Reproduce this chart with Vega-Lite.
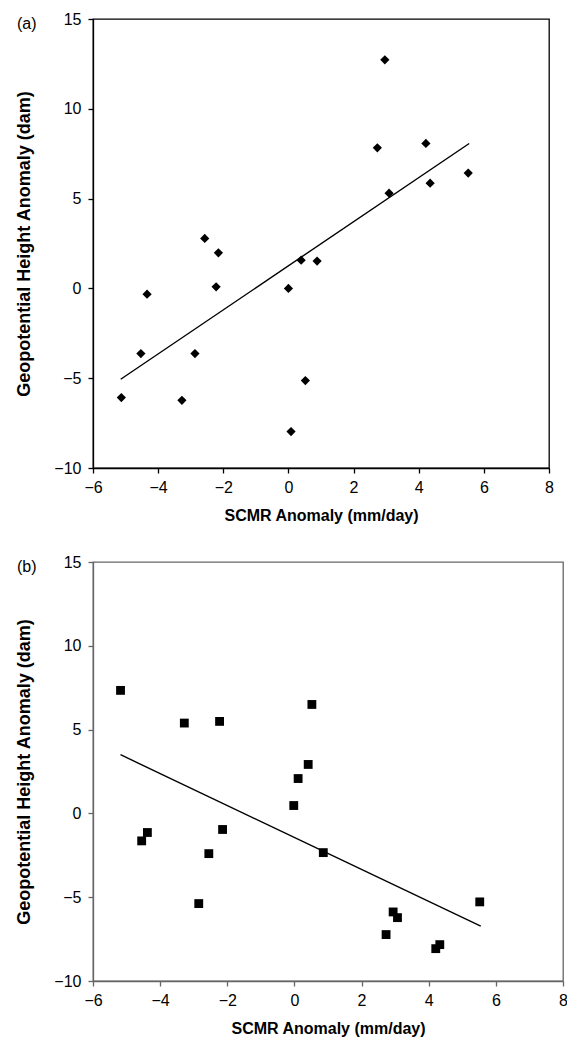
{
  "$schema": "https://vega.github.io/schema/vega-lite/v6.json",
  "padding": {"left": 15, "top": 10, "right": 0, "bottom": 0},
  "spacing": 29,
  "background": "white",
  "config": {
    "font": "Liberation Sans",
    "axis": {
      "grid": false,
      "labelFont": "Liberation Sans",
      "labelFontSize": 16,
      "labelColor": "#000",
      "titleFont": "Liberation Sans",
      "titleFontSize": 16,
      "titleFontWeight": "bold",
      "titleColor": "#000",
      "tickSize": 5,
      "domainWidth": 1.3,
      "tickWidth": 1.3,
      "labelFlush": false
    },
    "axisX": {"titlePadding": 12, "labelPadding": 6},
    "axisY": {"titlePadding": 20, "labelPadding": 7, "titleFontSize": 18},
    "title": {"font": "Liberation Sans", "fontSize": 16, "fontWeight": "normal", "color": "#000"}
  },
  "datasets": {
    "a": [
      {"x": -5.13, "y": -6.08}, {"x": -4.53, "y": -3.63}, {"x": -4.34, "y": -0.32},
      {"x": -3.27, "y": -6.23}, {"x": -2.87, "y": -3.63}, {"x": -2.57, "y": 2.78},
      {"x": -2.22, "y": 0.09}, {"x": -2.15, "y": 1.98}, {"x": 0.0, "y": 0.0},
      {"x": 0.08, "y": -7.97}, {"x": 0.39, "y": 1.57}, {"x": 0.52, "y": -5.13},
      {"x": 0.88, "y": 1.52}, {"x": 2.73, "y": 7.83}, {"x": 2.96, "y": 12.73},
      {"x": 3.09, "y": 5.3}, {"x": 4.22, "y": 8.07}, {"x": 4.35, "y": 5.86},
      {"x": 5.52, "y": 6.42}
    ],
    "fitA": [{"x": -5.15, "y": -5.06}, {"x": 5.55, "y": 8.07}],
    "b": [
      {"x": -5.18, "y": 7.34}, {"x": -4.55, "y": -1.64}, {"x": -4.38, "y": -1.14},
      {"x": -3.28, "y": 5.39}, {"x": -2.85, "y": -5.38}, {"x": -2.55, "y": -2.4},
      {"x": -2.23, "y": 5.49}, {"x": -2.14, "y": -0.96}, {"x": -0.02, "y": 0.47},
      {"x": 0.11, "y": 2.08}, {"x": 0.41, "y": 2.92}, {"x": 0.52, "y": 6.5},
      {"x": 0.86, "y": -2.34}, {"x": 2.73, "y": -7.23}, {"x": 2.94, "y": -5.88},
      {"x": 3.07, "y": -6.22}, {"x": 4.21, "y": -8.07}, {"x": 4.33, "y": -7.83},
      {"x": 5.52, "y": -5.28}
    ],
    "fitB": [{"x": -5.18, "y": 3.5}, {"x": 5.55, "y": -6.72}]
  },
  "vconcat": [
    {
      "width": 456,
      "height": 449,
      "title": {"text": "(a)", "anchor": "start", "frame": "group", "dx": -76, "dy": 21, "offset": 0},
      "view": {"stroke": "#000", "strokeWidth": 1.3},
      "layer": [
        {
          "data": {"name": "fitA"},
          "mark": {"type": "line", "color": "#000", "strokeWidth": 1.4},
          "encoding": {
            "x": {"field": "x", "type": "quantitative", "scale": {"domain": [-6, 8], "nice": false}, "axis": {"values": [-6, -4, -2, 0, 2, 4, 6, 8], "title": "SCMR Anomaly (mm/day)", "domainColor": "#000", "tickColor": "#000"}},
            "y": {"field": "y", "type": "quantitative", "scale": {"domain": [-10, 15], "nice": false}, "axis": {"values": [-10, -5, 0, 5, 10, 15], "title": "Geopotential Height Anomaly (dam)", "domainColor": "#000", "tickColor": "#000"}}
          }
        },
        {
          "data": {"name": "a"},
          "mark": {"type": "point", "shape": "diamond", "filled": true, "color": "#000", "opacity": 1, "size": 85, "strokeWidth": 0},
          "encoding": {
            "x": {"field": "x", "type": "quantitative"},
            "y": {"field": "y", "type": "quantitative"}
          }
        }
      ]
    },
    {
      "width": 470,
      "height": 419,
      "title": {"text": "(b)", "anchor": "start", "frame": "group", "dx": -76, "dy": 21, "offset": 0},
      "view": {"stroke": "#666", "strokeWidth": 1.3},
      "layer": [
        {
          "data": {"name": "fitB"},
          "mark": {"type": "line", "color": "#000", "strokeWidth": 1.4},
          "encoding": {
            "x": {"field": "x", "type": "quantitative", "scale": {"domain": [-6, 8], "nice": false}, "axis": {"values": [-6, -4, -2, 0, 2, 4, 6, 8], "title": "SCMR Anomaly (mm/day)", "domainColor": "#666", "tickColor": "#666"}},
            "y": {"field": "y", "type": "quantitative", "scale": {"domain": [-10, 15], "nice": false}, "axis": {"values": [-10, -5, 0, 5, 10, 15], "title": "Geopotential Height Anomaly (dam)", "domainColor": "#666", "tickColor": "#666"}}
          }
        },
        {
          "data": {"name": "b"},
          "mark": {"type": "square", "filled": true, "color": "#000", "opacity": 1, "size": 78, "strokeWidth": 0},
          "encoding": {
            "x": {"field": "x", "type": "quantitative"},
            "y": {"field": "y", "type": "quantitative"}
          }
        }
      ]
    }
  ]
}
